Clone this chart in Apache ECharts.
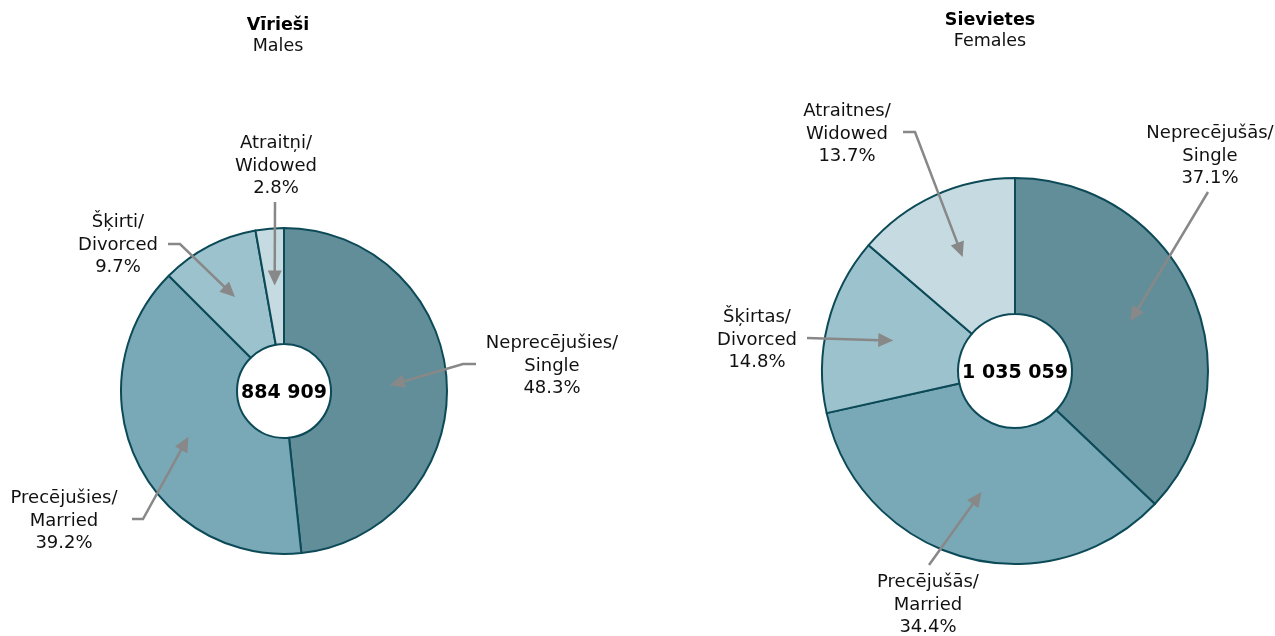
<!DOCTYPE html>
<html><head><meta charset="utf-8">
<script src="https://cdn.jsdelivr.net/npm/echarts@6/dist/echarts.min.js"></script>
<style>html,body{margin:0;padding:0;background:#fff}#c{width:1275px;height:636px}</style>
</head><body><div id="c"></div>
<script>
// ---- data ----
const categoriesMale = ['Neprecējušies/\nSingle', 'Precējušies/\nMarried', 'Šķirti/\nDivorced', 'Atraitņi/\nWidowed'];
const valuesMale = [48.3, 39.2, 9.7, 2.8];
const categoriesFemale = ['Neprecējušās/\nSingle', 'Precējušās/\nMarried', 'Šķirtas/\nDivorced', 'Atraitnes/\nWidowed'];
const valuesFemale = [37.1, 34.4, 14.8, 13.7];
const totals = ['884 909', '1 035 059'];
const titlesLv = ['Vīrieši', 'Sievietes'];
const titlesEn = ['Males', 'Females'];

// ---- layout / style ----
const colors = ['#628e99', '#79a9b7', '#9cc2ce', '#c5dbe1'];
const FONT = '"DejaVu Sans", Verdana, sans-serif';
const pies = [
  { center: [284, 391], radius: [47, 163] },
  { center: [1015, 371], radius: [57, 193] }
];
const titleX = [273, 985];
const titleTop = [11, 6];
const labelPos = [
  [[552, 366], [64, 521], [118, 245], [276, 166]],
  [[1210, 156], [928, 605], [757, 340], [847, 134]]
];
const arrowStart = [
  [[[476, 364], [463, 364]], [[132, 519], [143, 519]], [[168, 244], [180, 244]], [[275, 202]]],
  [[[1208, 192]], [[929, 565]], [[807, 338]], [[903, 132], [915, 132]]]
];

const datasets = [
  { names: categoriesMale, values: valuesMale },
  { names: categoriesFemale, values: valuesFemale }
];

const series = datasets.map((d, si) => ({
  type: 'pie',
  center: pies[si].center,
  radius: pies[si].radius,
  startAngle: 90,
  clockwise: true,
  avoidLabelOverlap: false,
  animation: false,
  silent: true,
  itemStyle: { borderColor: '#0c4a57', borderWidth: 2 },
  label: {
    show: true,
    formatter: p => p.name + '\n' + p.value.toFixed(1) + '%',
    fontFamily: FONT,
    fontSize: 18,
    lineHeight: 22.5,
    color: '#111',
    align: 'center'
  },
  labelLine: { show: false },
  labelLayout: p => ({
    x: labelPos[si][p.dataIndex][0],
    y: labelPos[si][p.dataIndex][1],
    align: 'center',
    verticalAlign: 'middle'
  }),
  data: d.names.map((n, i) => ({ name: n, value: d.values[i], itemStyle: { color: colors[i] } }))
}));

// arrows computed from slice geometry
const graphics = [];
datasets.forEach((d, si) => {
  const total = d.values.reduce((a, b) => a + b, 0);
  let cum = 0;
  const [cx, cy] = pies[si].center;
  const R = pies[si].radius[1] * 0.65;
  d.values.forEach((v, i) => {
    const mid = (cum + v / 2) / total * 2 * Math.PI;
    cum += v;
    const tip = [cx + R * Math.sin(mid), cy - R * Math.cos(mid)];
    const pts = arrowStart[si][i].slice();
    const prev = pts[pts.length - 1];
    let dx = tip[0] - prev[0], dy = tip[1] - prev[1];
    const L = Math.hypot(dx, dy); dx /= L; dy /= L;
    const hl = 15, hw = 7;
    const base = [tip[0] - dx * hl, tip[1] - dy * hl];
    pts.push([base[0] + dx * 1, base[1] + dy * 1]);
    graphics.push({
      type: 'polyline', z: 100, silent: true,
      shape: { points: pts },
      style: { stroke: '#888888', lineWidth: 2.5, fill: null }
    });
    graphics.push({
      type: 'polygon', z: 100, silent: true,
      shape: { points: [tip, [base[0] - dy * hw, base[1] + dx * hw], [base[0] + dy * hw, base[1] - dx * hw]] },
      style: { fill: '#888888' }
    });
  });
  graphics.push({
    type: 'text', z: 110, silent: true,
    x: cx, y: cy + 2,
    style: {
      text: totals[si], fontFamily: FONT, fontSize: 19, fontWeight: 'bold',
      fill: '#000', align: 'center', verticalAlign: 'middle'
    }
  });
});

const chart = echarts.init(document.getElementById('c'), null, { renderer: 'canvas' });
chart.setOption({
  backgroundColor: '#fff',
  animation: false,
  title: titlesLv.map((t, i) => ({
    text: t, subtext: titlesEn[i],
    left: titleX[i], top: titleTop[i], textAlign: 'center',
    itemGap: 3,
    textStyle: { fontFamily: FONT, fontSize: 17.5, fontWeight: 'bold', color: '#000' },
    subtextStyle: { fontFamily: FONT, fontSize: 17.5, color: '#111' }
  })),
  series: series,
  graphic: graphics
});
</script>
</body></html>
